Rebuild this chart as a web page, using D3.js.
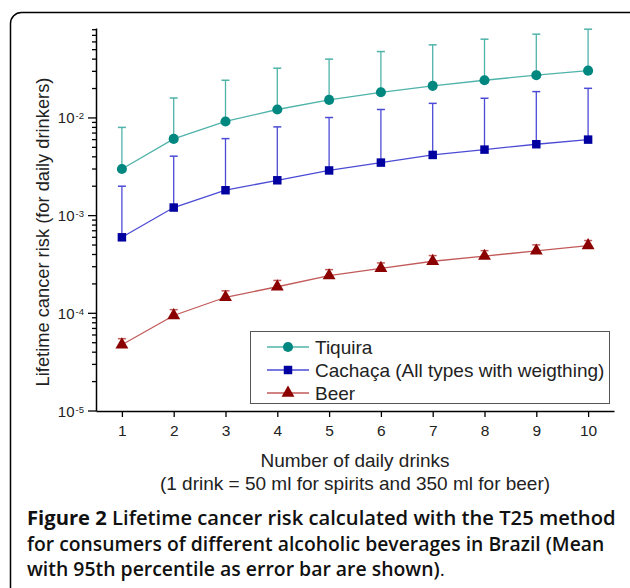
<!DOCTYPE html>
<html><head><meta charset="utf-8">
<script src="https://cdn.jsdelivr.net/npm/d3@7"></script>
<style>body{margin:0;background:#fff;}svg{display:block;}</style>
</head><body>
<svg id="c" width="630" height="588"></svg>
<script>
const drinks = [1,2,3,4,5,6,7,8,9,10];
const tiquiraMean = [0.0030,0.0061,0.0092,0.0122,0.0153,0.0183,0.0213,0.0243,0.0274,0.0305];
const tiquiraP95  = [0.0080,0.016,0.0243,0.0323,0.040,0.0478,0.056,0.064,0.072,0.081];
const cachacaMean = [0.00060,0.00121,0.00182,0.0023,0.0029,0.00349,0.00418,0.00474,0.00538,0.0060];
const cachacaP95  = [0.0020,0.00406,0.00614,0.0081,0.0101,0.0122,0.0141,0.0159,0.0186,0.0201];
const beerMean = [4.76e-5,9.5e-5,1.46e-4,1.87e-4,2.43e-4,2.89e-4,3.41e-4,3.85e-4,4.36e-4,4.94e-4];
const beerP95  = [5.5e-5,1.09e-4,1.7e-4,2.17e-4,2.8e-4,3.28e-4,3.9e-4,4.38e-4,5.02e-4,5.56e-4];
const seriesNames = ["Tiquira","Cachaça (All types with weigthing)","Beer"];
const yTickExps = [-5,-4,-3,-2];

const svg = d3.select("#c");
const font = "'Liberation Sans', Arial, sans-serif";

// frame
svg.append("rect").attr("x",10.5).attr("y",12.5).attr("width",630).attr("height",590)
  .attr("rx",11).attr("fill","none").attr("stroke","#000").attr("stroke-width",1.5);

const x = d3.scaleLinear().domain([0.5,10.5]).range([96,614]);
const y = d3.scaleLog().domain([1e-5,0.0833]).range([411,28]);

const series = [
  {name:seriesNames[0], mean:tiquiraMean, p95:tiquiraP95, mk:"#00877f", ln:"#4fb3aa", sym:d3.symbolCircle, size:80},
  {name:seriesNames[1], mean:cachacaMean, p95:cachacaP95, mk:"#0000a0", ln:"#4b4bd6", sym:d3.symbolSquare, size:72},
  {name:seriesNames[2], mean:beerMean, p95:beerP95, mk:"#8b0000", ln:"#c25a5a", sym:d3.symbolTriangle, size:72}
];

// axes
const minorVals = [];
for (let e=-5;e<=-2;e++) for (let m=1;m<=9;m++){ const v=m*Math.pow(10,e); if(v<=0.0833) minorVals.push(v); }
const yAxis = d3.axisLeft(y).tickValues(minorVals).tickSize(0).tickFormat("");
const gy = svg.append("g").attr("transform","translate(96,0)").call(yAxis);
gy.select(".domain").attr("stroke","#000").attr("stroke-width",1.5);
gy.selectAll(".tick line").remove();
minorVals.forEach(v=>{
  const major = Math.abs(Math.log10(v)-Math.round(Math.log10(v)))<1e-9;
  gy.append("line").attr("x1",major?-8:-4).attr("x2",0).attr("y1",y(v)).attr("y2",y(v))
    .attr("stroke","#000").attr("stroke-width",1.3);
});
yTickExps.forEach(e=>{
  const t = svg.append("text").attr("x",84).attr("y",y(Math.pow(10,e))+5.5)
    .attr("text-anchor","end").attr("font-family",font).attr("font-size",15).attr("fill","#222");
  t.append("tspan").text("10");
  t.append("tspan").attr("dx",1).attr("dy",-4).attr("font-size",9.5).text("-"+(-e));
});

const xAxis = d3.axisBottom(x).tickValues(drinks).tickSize(6).tickSizeOuter(0).tickPadding(8);
const gx = svg.append("g").attr("transform","translate(0,411)").call(xAxis);
gx.select(".domain").attr("stroke","#000").attr("stroke-width",1.5);
gx.selectAll(".tick line").attr("stroke","#000").attr("stroke-width",1.3);
gx.selectAll(".tick text").attr("font-family",font).attr("font-size",15.5).attr("fill","#222");

// axis titles
svg.append("text").attr("transform","translate(49,232) rotate(-90)").attr("text-anchor","middle")
  .attr("font-family",font).attr("font-size",18.3).attr("fill","#222").text("Lifetime cancer risk (for daily drinkers)");
svg.append("text").attr("x",355).attr("y",467).attr("text-anchor","middle")
  .attr("font-family",font).attr("font-size",19).attr("fill","#222").text("Number of daily drinks");
svg.append("text").attr("x",355).attr("y",490).attr("text-anchor","middle")
  .attr("font-family",font).attr("font-size",19).attr("fill","#222").text("(1 drink = 50 ml for spirits and 350 ml for beer)");

// series
series.forEach(s=>{
  const g = svg.append("g");
  const pts = drinks.map((d,i)=>({x:d,m:s.mean[i],p:s.p95[i]}));
  g.selectAll("line.err").data(pts).enter().append("line")
    .attr("x1",d=>x(d.x)).attr("x2",d=>x(d.x)).attr("y1",d=>y(d.m)).attr("y2",d=>y(d.p))
    .attr("stroke",s.ln).attr("stroke-width",1.3);
  g.selectAll("line.cap").data(pts).enter().append("line")
    .attr("x1",d=>x(d.x)-4).attr("x2",d=>x(d.x)+4).attr("y1",d=>y(d.p)).attr("y2",d=>y(d.p))
    .attr("stroke",s.ln).attr("stroke-width",1.5);
  g.append("path").datum(pts).attr("fill","none").attr("stroke",s.ln).attr("stroke-width",1.3)
    .attr("d",d3.line().x(d=>x(d.x)).y(d=>y(d.m)));
  g.selectAll("path.mk").data(pts).enter().append("path")
    .attr("transform",d=>`translate(${x(d.x)},${y(d.m)})`)
    .attr("d",d3.symbol().type(s.sym).size(s.size)).attr("fill",s.mk);
});

// legend
svg.append("rect").attr("x",250.5).attr("y",331.5).attr("width",359).attr("height",72)
  .attr("fill","#fff").attr("stroke","#555").attr("stroke-width",1);
const ly = [347,370,393];
series.forEach((s,i)=>{
  svg.append("line").attr("x1",267).attr("x2",309).attr("y1",ly[i]).attr("y2",ly[i])
    .attr("stroke",s.ln).attr("stroke-width",1.3);
  svg.append("path").attr("transform",`translate(288,${ly[i]})`)
    .attr("d",d3.symbol().type(s.sym).size(s.size)).attr("fill",s.mk);
  svg.append("text").attr("x",315).attr("y",ly[i]+7).attr("font-family",font).attr("font-size",19)
    .attr("fill","#222").text(s.name);
});

// caption
const capLines = [
  [["Figure 2",700],[" Lifetime cancer risk calculated with the T25 method",600]],
  [["for consumers of different alcoholic beverages in Brazil (Mean",600]],
  [["with 95th percentile as error bar are shown)",600],[".",400]]
];
const capY=[525,551,576];
const capW=[589,578,418];
capLines.forEach((ln,i)=>{
  const t = svg.append("text").attr("font-family","'Open Sans', sans-serif")
    .attr("font-size",19).attr("fill","#111");
  ln.forEach(([txt,w])=>t.append("tspan").attr("font-weight",w).text(txt));
  const w = t.node().getComputedTextLength();
  t.attr("transform",`translate(27,${capY[i]}) scale(${capW[i]/w},1)`);
});
</script>
</body></html>
